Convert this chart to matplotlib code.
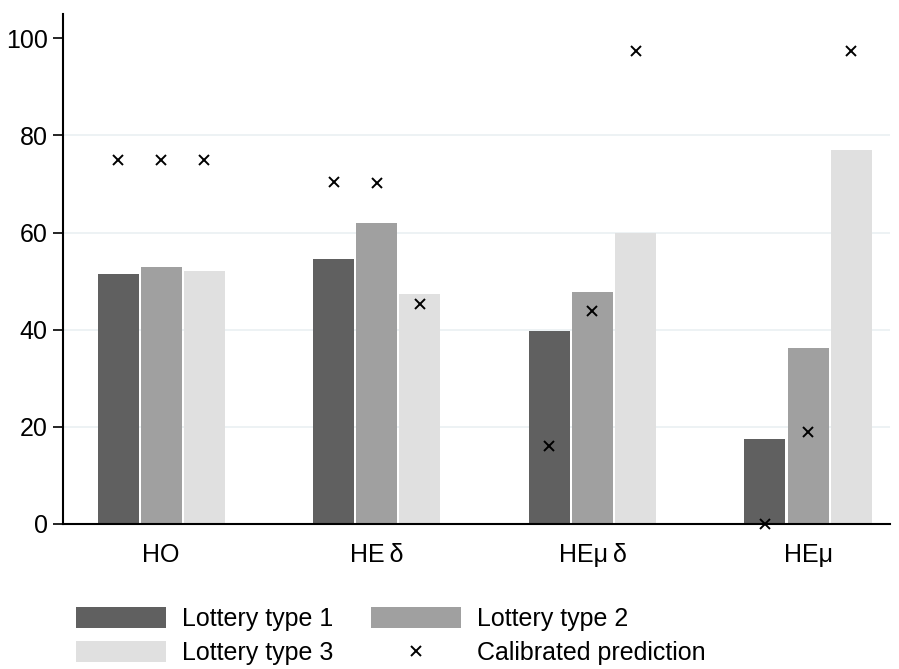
import matplotlib
matplotlib.use("Agg")
import matplotlib.pyplot as plt
import numpy as np

plt.rcParams['font.family'] = ['Liberation Sans', 'DejaVu Sans']

groups = ["HO", "HE\u2009δ", "HEμ\u2009δ", "HEμ"]
series_names = ["Lottery type 1", "Lottery type 2", "Lottery type 3"]
type1 = [51.5, 54.6, 39.8, 17.5]
type2 = [53.0, 61.9, 47.8, 36.3]
type3 = [52.0, 47.4, 60.0, 77.1]
pred1 = [75.0, 70.5, 16.1, 0.0]
pred2 = [75.0, 70.3, 43.9, 19.0]
pred3 = [75.0, 45.2, 97.3, 97.3]
yticks = [0, 20, 40, 60, 80, 100]

colors = ["#606060", "#a0a0a0", "#e0e0e0"]

fig = plt.figure(figsize=(8.99, 6.69), dpi=100)
ax = fig.add_axes([0.070, 0.217, 0.920, 0.762])

x = np.arange(len(groups))
slot = 0.2
width = 0.19
handles = []
for i, (vals, preds) in enumerate(zip([type1, type2, type3], [pred1, pred2, pred3])):
    pos = x + (i - 1) * slot
    b = ax.bar(pos, vals, width=width, color=colors[i], edgecolor="none", zorder=2, label=series_names[i])
    handles.append(b)
    m = ax.plot(pos, preds, linestyle="none", marker="x", color="black", markersize=7,
                markeredgewidth=1.4, zorder=3, clip_on=False, label="Calibrated prediction")
    if i == 0:
        mh = m[0]

ax.set_xlim(-0.456, 3.38)
ax.set_ylim(0, 105)
ax.set_yticks(yticks)
ax.set_yticklabels([str(t) for t in yticks], fontsize=18)
ax.set_xticks(x)
ax.set_xticklabels(groups, fontsize=18)
ax.tick_params(axis='x', length=0, pad=14)
ax.tick_params(axis='y', length=7, width=1.2, direction='out', pad=4)
for t in [20, 40, 60, 80]:
    ax.axhline(t, color="#eaf0f2", linewidth=1.2, zorder=1)
ax.spines['top'].set_visible(False)
ax.spines['right'].set_visible(False)
ax.spines['left'].set_linewidth(1.5)
ax.spines['bottom'].set_linewidth(1.5)

leg = fig.legend([handles[0], handles[2], handles[1], mh],
                 ["Lottery type 1", "Lottery type 3", "Lottery type 2", "Calibrated prediction"],
                 loc="upper left", bbox_to_anchor=(0.0845, 0.093), ncol=2, frameon=False,
                 fontsize=18, handlelength=3.6, handleheight=0.92, columnspacing=1.5,
                 labelspacing=0.4, handletextpad=0.64, borderpad=0, borderaxespad=0)

fig.savefig("out.png", dpi=100)
